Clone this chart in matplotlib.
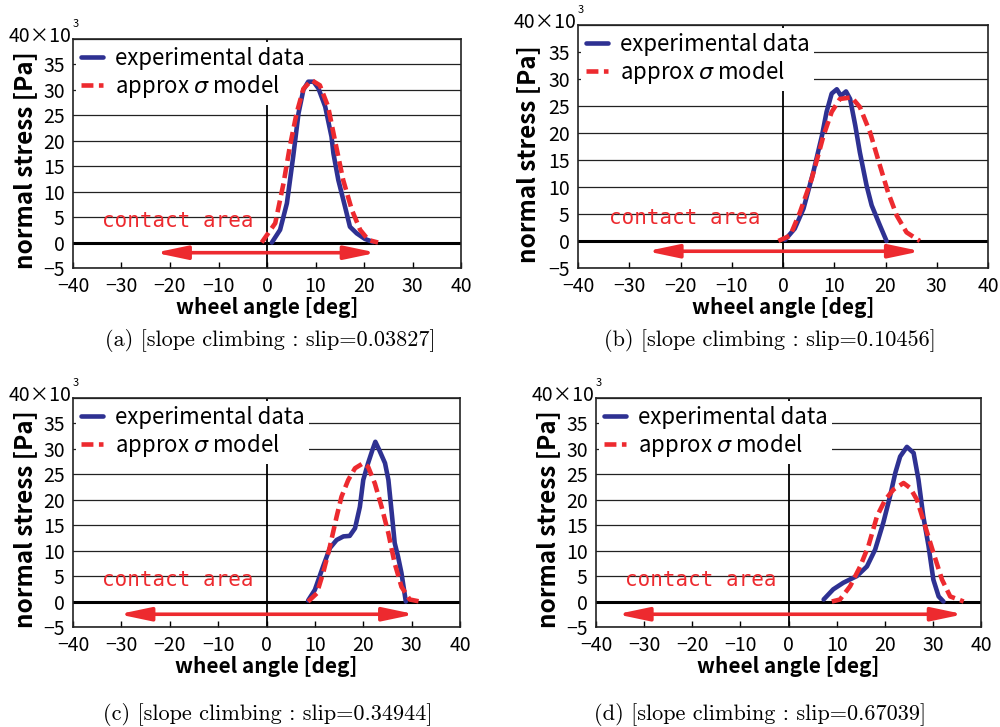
import matplotlib
matplotlib.use("Agg")
import matplotlib.pyplot as plt

# values in 10^3 Pa, angle in deg
a_exp_x = [1.0, 2.7, 4.1, 5.4, 6.5, 7.5, 8.5, 9.6, 10.6, 12.0, 13.3, 13.7, 14.7, 16.1, 17.1, 18.5, 20.2, 21.9]
a_exp_y = [0.0, 2.5, 7.7, 16.9, 25.4, 30.0, 31.6, 31.6, 30.3, 26.7, 20.8, 17.5, 12.3, 7.0, 3.1, 1.8, 0.7, 0.1]
a_mod_x = [-1.1, 1.7, 3.4, 4.7, 6.1, 7.5, 9.2, 10.9, 12.6, 14.0, 15.7, 17.5, 19.2, 20.9, 22.9]
a_mod_y = [0.0, 3.8, 11.6, 18.8, 25.4, 30.2, 31.9, 30.9, 26.7, 20.1, 12.3, 6.4, 2.5, 0.5, 0.0]

b_exp_x = [0.4, 2.3, 4.0, 5.9, 7.6, 8.5, 9.5, 10.5, 11.3, 12.3, 13.1, 14.1, 15.0, 16.3, 17.3, 18.9, 20.2]
b_exp_y = [0.2, 2.3, 6.0, 12.7, 19.5, 23.9, 27.3, 28.1, 26.9, 27.7, 26.3, 21.4, 16.4, 10.3, 6.6, 2.9, 0.0]
b_mod_x = [-0.9, 1.4, 3.3, 5.6, 7.9, 9.5, 11.1, 13.4, 15.0, 17.0, 18.9, 20.5, 22.2, 24.1, 26.7]
b_mod_y = [0.0, 1.0, 5.3, 11.5, 19.5, 23.9, 26.3, 26.6, 24.8, 20.1, 14.0, 9.0, 4.7, 1.6, 0.0]

c_exp_x = [8.6, 10.0, 11.7, 13.1, 14.5, 15.9, 17.2, 18.3, 19.3, 20.0, 21.0, 21.9, 22.5, 23.3, 24.5, 25.2, 25.9, 26.5, 27.2, 27.9, 28.8]
c_exp_y = [0.2, 2.3, 6.9, 10.5, 12.1, 12.8, 12.9, 14.4, 18.6, 23.9, 27.2, 29.8, 31.4, 29.8, 27.2, 23.9, 17.3, 11.5, 8.8, 5.6, 0.0]
c_mod_x = [8.6, 10.4, 11.7, 13.1, 14.5, 15.5, 16.9, 18.3, 20.0, 21.0, 22.4, 23.8, 25.2, 26.5, 27.9, 29.6, 31.7]
c_mod_y = [0.0, 1.6, 5.6, 10.8, 16.7, 20.6, 23.9, 26.2, 27.2, 26.5, 23.2, 18.6, 13.4, 7.5, 2.9, 0.4, 0.0]

d_exp_x = [7.3, 9.3, 11.4, 14.2, 16.3, 18.0, 19.7, 21.1, 22.2, 23.2, 24.6, 26.0, 27.0, 28.0, 29.1, 30.1, 31.2, 32.2]
d_exp_y = [0.4, 2.4, 3.7, 5.0, 6.9, 10.2, 15.5, 20.7, 25.3, 28.5, 30.4, 29.2, 24.0, 16.8, 10.9, 4.3, 1.0, 0.0]
d_mod_x = [9.0, 10.7, 12.8, 14.9, 16.6, 18.4, 20.1, 21.8, 23.9, 25.3, 26.7, 28.4, 30.1, 31.9, 33.6, 36.4]
d_mod_y = [0.0, 0.4, 3.0, 6.9, 10.9, 16.8, 20.0, 22.0, 23.3, 22.3, 20.0, 14.8, 9.6, 4.3, 1.0, 0.0]

# contact area arrows (start, end, level)
arrow_start = [-23.1, -26.6, -30.6, -35.7]
arrow_end = [22.6, 26.9, 30.7, 36.4]
arrow_level = [-2.0, -1.9, -2.5, -2.5]

captions = ["(a) [slope climbing : slip=0.03827]",
            "(b) [slope climbing : slip=0.10456]",
            "(c) [slope climbing : slip=0.34944]",
            "(d) [slope climbing : slip=0.67039]"]

BLUE = "#2e3192"
RED = "#ed2a2f"
FONT = ["Noto Sans CJK JP", "DejaVu Sans"]

plt.rcParams["font.family"] = FONT
plt.rcParams["mathtext.fontset"] = "dejavusans"

fig = plt.figure(figsize=(10, 7.27), dpi=100)

rects = [(0.073, 0.6314, 0.388, 0.3150),
         (0.578, 0.6314, 0.410, 0.3342),
         (0.073, 0.1376, 0.387, 0.3149),
         (0.596, 0.1376, 0.385, 0.3149)]
caption_pos = [(0.270, 0.5245), (0.770, 0.5245), (0.268, 0.010), (0.760, 0.010)]

series = [(a_exp_x, a_exp_y, a_mod_x, a_mod_y),
          (b_exp_x, b_exp_y, b_mod_x, b_mod_y),
          (c_exp_x, c_exp_y, c_mod_x, c_mod_y),
          (d_exp_x, d_exp_y, d_mod_x, d_mod_y)]

for i, rect in enumerate(rects):
    ex, ey, mx, my = series[i]
    ax = fig.add_axes(rect)
    ax.set_xlim(-40, 40)
    ax.set_ylim(-5, 40)
    ax.set_xticks(range(-40, 41, 10))
    ax.set_yticks(range(-5, 41, 5))
    ax.set_yticklabels(["\u22125"] + [str(v) for v in range(0, 40, 5)] + [""])
    ax.set_xticklabels([str(v).replace("-", "\u2212") for v in range(-40, 41, 10)])
    ax.tick_params(axis="x", direction="in", length=4, width=1, pad=6, labelsize=14)
    ax.tick_params(axis="y", length=0, pad=6, labelsize=14)
    ax.grid(axis="y", color="#222222", lw=0.9)
    for s in ax.spines.values():
        s.set_linewidth(1.2)
        s.set_color("#222222")
    ax.axhline(0, color="k", lw=2.2, zorder=2)
    ax.axvline(0, color="k", lw=1.3, zorder=2)

    ax.plot(ex, ey, color=BLUE, lw=3.3, label="experimental data", zorder=4,
            solid_capstyle="round", solid_joinstyle="round")
    ax.plot(mx, my, color=RED, lw=3.3, dashes=(2.6, 1.2), label="approx $\\sigma$ model", zorder=4)

    ax.annotate("", xy=(arrow_end[i], arrow_level[i]), xytext=(arrow_start[i], arrow_level[i]),
                arrowprops=dict(arrowstyle="<|-|>,head_length=0.95,head_width=0.2",
                                color=RED, lw=2.6, shrinkA=0, shrinkB=0, mutation_scale=20),
                zorder=3)
    ax.text(-34, 4.3, "contact area", color=RED, fontsize=15, family="DejaVu Sans Mono",
            va="center", ha="left", zorder=3)

    leg = ax.legend(loc="upper left", frameon=True, fancybox=False, edgecolor="none",
                    facecolor="white", framealpha=1, handlelength=1.0, handletextpad=0.55,
                    borderaxespad=0.15, borderpad=0.2, labelspacing=0.15, fontsize=16)
    leg.set_zorder(3.5)

    ax.set_xlabel("wheel angle [deg]", fontsize=15, fontweight="bold", labelpad=0)
    ax.set_ylabel("normal stress [Pa]", fontsize=17.5, fontweight="bold")
    ax.yaxis.set_label_coords(-0.092, 0.47)

    ax.annotate("40\u00d710", xy=(0, 1), xycoords="axes fraction", xytext=(-1, 2),
                textcoords="offset points", ha="right", va="center", fontsize=14)
    ax.annotate("3", xy=(0, 1), xycoords="axes fraction", xytext=(0, 11),
                textcoords="offset points", ha="left", va="center", fontsize=8)

    fig.text(caption_pos[i][0], caption_pos[i][1], captions[i], ha="center", va="baseline",
             fontsize=16, family="cmr10")

fig.savefig("out.png", dpi=100)
plt.close(fig)
